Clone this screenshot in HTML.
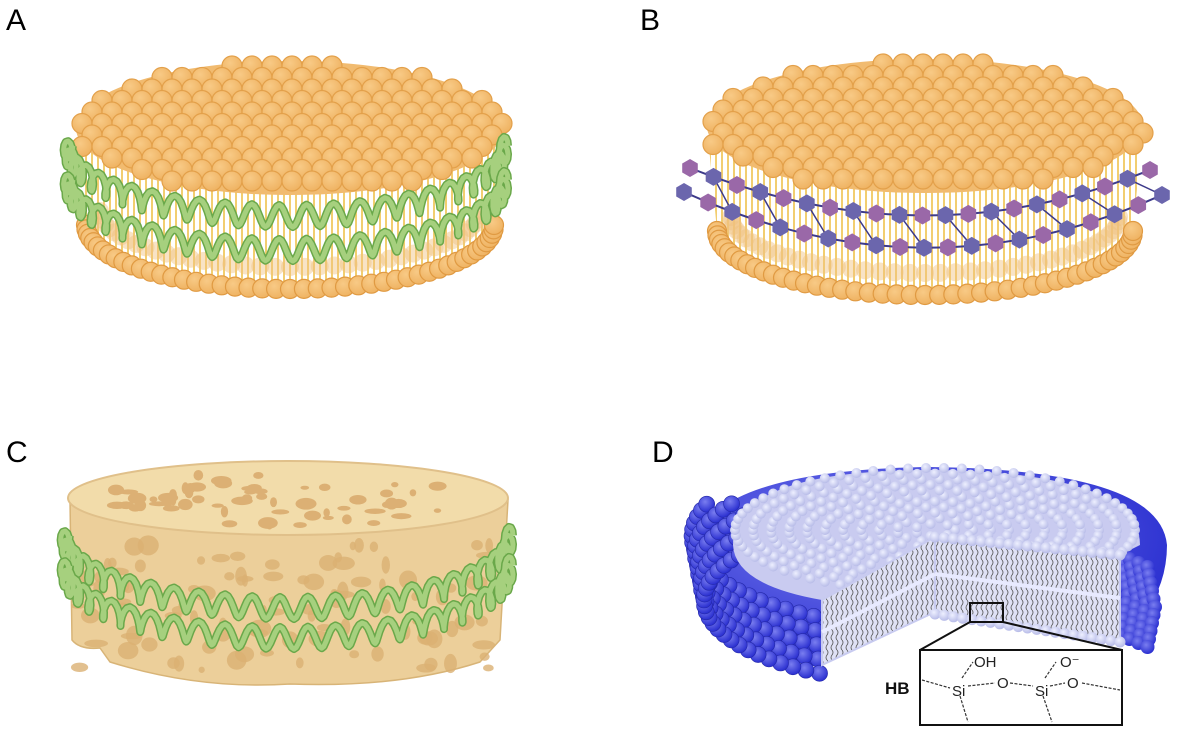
<!DOCTYPE html>
<html><head><meta charset="utf-8"><style>
html,body{margin:0;padding:0;background:#fff;}
svg{display:block;}
text{font-family:"Liberation Sans",Arial,sans-serif;}
</style></head><body>
<svg id="s" width="1178" height="732" viewBox="0 0 1178 732" xmlns="http://www.w3.org/2000/svg">
<defs>
<radialGradient id="og" cx="40%" cy="35%" r="65%"><stop offset="0" stop-color="#f8ca86"/><stop offset="1" stop-color="#efb363"/></radialGradient>
<radialGradient id="bg" cx="40%" cy="35%" r="65%"><stop offset="0" stop-color="#7a7ef0"/><stop offset="1" stop-color="#2a2fd0"/></radialGradient>
<radialGradient id="lg" cx="40%" cy="35%" r="65%"><stop offset="0" stop-color="#eef0ff"/><stop offset="1" stop-color="#b8bce8"/></radialGradient>
<pattern id="tails" width="6" height="20" patternUnits="userSpaceOnUse"><rect width="6" height="20" fill="#fff"/><rect x="1" width="2" height="20" fill="#f0c860"/></pattern>
<pattern id="tailsD" width="5" height="10" patternUnits="userSpaceOnUse"><rect width="5" height="10" fill="#dfe1f5"/><path d="M2 0 q2 2.5 0 5 q-2 2.5 0 5" stroke="#555" stroke-width="0.8" fill="none"/></pattern>
</defs>
<text x="6" y="30" font-size="30">A</text>
<text x="640" y="30" font-size="30">B</text>
<text x="6" y="462" font-size="30">C</text>
<text x="652" y="462" font-size="30">D</text>
<g id="A"></g><g id="B"></g><g id="C"></g><g id="D"></g>
</svg>
<script>
var NS="http://www.w3.org/2000/svg";
function el(p,t,a){var e=document.createElementNS(NS,t);for(var k in a)e.setAttribute(k,a[k]);p.appendChild(e);return e;}
function lipidDisc(g,cx,topY,rx,ry,frontTop,bottomFront){
  var cyT=topY+ry, cyB=bottomFront-ry+8;
  var rxb=rx-14;
  el(g,'path',{d:'M'+(cx-rx+4)+' '+cyT+' L'+(cx-rxb)+' '+cyB+' A'+rxb+' '+(ry-6)+' 0 0 0 '+(cx+rxb)+' '+cyB+' L'+(cx+rx-4)+' '+cyT+'Z',fill:'url(#tails)',opacity:0.9});
  for(var i=0;i<=40;i++){var a=Math.PI*i/40;var x=cx-(rxb-14)*Math.cos(a),y=cyB-14+(ry-14)*Math.sin(a);
    el(g,'circle',{cx:x,cy:y,r:9,fill:'#efc27e',opacity:0.45});}
  for(var i=0;i<=46;i++){var a=Math.PI*i/46;var x=cx-rxb*Math.cos(a),y=cyB+(ry-6)*Math.sin(a);
    el(g,'circle',{cx:x,cy:y,r:9.5,fill:'url(#og)',stroke:'#e09a42','stroke-width':1.2});}
  el(g,'ellipse',{cx:cx,cy:cyT,rx:rx-4,ry:ry-3,fill:'#f1bb70'});
  var dy=11.5,dx=20;
  for(var row=0;;row++){var y=topY+8+row*dy;if(y>cyT+ry-4)break;
    var off=(row%2)*dx/2;
    for(var x=cx-rx-dx+off;x<=cx+rx+dx;x+=dx){var u=(x-cx)/(rx-9),v=(y-cyT)/(ry-8);if(u*u+v*v>1.08)continue;
      el(g,'circle',{cx:x,cy:y,r:10,fill:'url(#og)',stroke:'#e3a04a','stroke-width':1.2});}}
}
function helix(g,cx,cy,rx,ry,amp,n){
  var pts=[];
  for(var i=0;i<=n*12;i++){var t=i/(n*12);var a=Math.PI*(-0.02+1.04*t);
    var x=cx-rx*Math.cos(a),y=cy+ry*Math.sin(a);var ph=2*Math.PI*n*t;
    pts.push([x+amp*0.4*Math.cos(ph)*Math.abs(Math.cos(a)),y+amp*Math.sin(ph)]);}
  var d='M'+pts.map(function(p){return p[0].toFixed(1)+' '+p[1].toFixed(1)}).join(' L');
  el(g,'path',{d:d,fill:'none',stroke:'#6aa84a','stroke-width':8,'stroke-linejoin':'round'});
  el(g,'path',{d:d,fill:'none',stroke:'#a6d07e','stroke-width':5,'stroke-linejoin':'round'});
}
var A=document.getElementById('A');
lipidDisc(A,290,58,218,70,195,287);
helix(A,286,150,218,66,11,26);
helix(A,286,184,218,66,11,26);
var B=document.getElementById('B');
lipidDisc(B,925,56,222,70,190,293);
function chain(g,x0,y0,cx,cy,x1,y1,n){
  var pts=[];for(var i=0;i<=n;i++){var t=i/n;var x=(1-t)*(1-t)*x0+2*t*(1-t)*cx+t*t*x1;var y=(1-t)*(1-t)*y0+2*t*(1-t)*cy+t*t*y1;pts.push([x,y]);}
  el(g,'path',{d:'M'+pts.map(function(p){return p[0]+' '+p[1]}).join(' L'),stroke:'#3d3a8a','stroke-width':2,fill:'none'});
  return pts;}
var c1=chain(B,690,168,925,262,1150,170,20),c2=chain(B,684,192,925,302,1162,195,20);
for(var i=1;i<20;i+=2){el(B,'line',{x1:c1[i][0],y1:c1[i][1],x2:c2[i+1][0],y2:c2[i+1][1],stroke:'#3d3a8a','stroke-width':1.5});}
[c1,c2].forEach(function(c,k){c.forEach(function(p,i){var col=((i+k)%2)?'#6b66ad':'#9a68a8';
  var h='';for(var j=0;j<6;j++){var a=Math.PI/3*j+Math.PI/6;h+=(j?'L':'M')+(p[0]+9*Math.cos(a))+' '+(p[1]+9*Math.sin(a));}
  el(B,'path',{d:h+'Z',fill:col});});});
var C=document.getElementById('C');
el(C,'path',{d:'M70 500 L72 640 Q80 650 100 648 L110 662 Q200 690 290 684 Q400 688 480 662 L500 640 L508 500Z',fill:'#eccf9a',stroke:'#d8b477','stroke-width':1.5});
el(C,'ellipse',{cx:288,cy:498,rx:220,ry:37,fill:'#f2dcaa',stroke:'#e0c08a','stroke-width':2});
var seed=7;function rnd(){seed=(seed*9301+49297)%233280;return seed/233280;}
for(var i=0;i<60;i++){var a=rnd()*2*Math.PI,r=Math.sqrt(rnd())*0.9;el(C,'ellipse',{cx:288+200*r*Math.cos(a),cy:498+32*r*Math.sin(a),rx:3+rnd()*8,ry:2+rnd()*4,fill:'#dcb074'});}
for(var i=0;i<100;i++){var x=78+rnd()*420,y=545+rnd()*125;el(C,'ellipse',{cx:x,cy:y,rx:3+rnd()*9,ry:3+rnd()*7,fill:'#dbb073',opacity:0.8});}
helix(C,287,540,222,68,11,26);
helix(C,287,570,222,68,11,26);
var D=document.getElementById('D');
el(D,'path',{d:'M692 560 Q692 470 930 467 Q1160 470 1167 545 Q1167 600 1120 640 L1120 560 L935 540 L822 600 L822 668 Q700 640 692 560Z',fill:'url(#bg)'});
for(var k=0;k<5;k++){for(var i=0;i<=40;i++){var a=Math.PI*(0.55+0.9*i/40);var x=930+(238-k*3)*Math.cos(a),y=560+(92-k*2)*Math.sin(a)+k*16-24;
  if(x<822&&y>500)el(D,'circle',{cx:x,cy:y,r:8,fill:'url(#bg)',stroke:'#2428a8','stroke-width':0.6});}}
for(var k=0;k<4;k++){for(var i=0;i<=10;i++){var y=555+i*8+k*4,x=1128+k*9-Math.abs(i-5)*1.5;el(D,'circle',{cx:x,cy:y,r:7,fill:'url(#bg)'});}}
el(D,'path',{d:'M733 545 Q733 470 930 470 Q1140 472 1140 545 L1120 555 L935 537 L822 600 Q735 585 733 545Z',fill:'#c9cbf0'});
for(var r=0.1;r<=1.0;r+=0.09){var n=Math.round(70*r);for(var i=0;i<n;i++){var a=2*Math.PI*i/n;var x=935+200*r*Math.cos(a),y=530+62*r*Math.sin(a);
  if(!(y>537-(x-935)*0.55&&x<935)&&!(x>935&&y>537+(x-935)*0.1))el(D,'circle',{cx:x,cy:y,r:5,fill:'url(#lg)'});}}
el(D,'path',{d:'M822 600 L935 537 L935 612 L822 665Z',fill:'url(#tailsD)',stroke:'#c8cbf0','stroke-width':2});
el(D,'path',{d:'M935 537 L1120 555 L1120 642 L935 612Z',fill:'url(#tailsD)',stroke:'#c8cbf0','stroke-width':2});
el(D,'line',{x1:822,y1:632,x2:935,y2:574,stroke:'#e8eaff','stroke-width':4});
el(D,'line',{x1:935,y1:574,x2:1120,y2:598,stroke:'#e8eaff','stroke-width':4});
for(var i=0;i<=20;i++){var x=935+185*i/20;el(D,'circle',{cx:x,cy:537+18*i/20,r:5.5,fill:'url(#lg)'});el(D,'circle',{cx:x,cy:614+28*i/20,r:5.5,fill:'url(#lg)'});}
el(D,'rect',{x:970,y:603,width:33,height:19,fill:'none',stroke:'#111','stroke-width':2});
el(D,'line',{x1:970,y1:622,x2:920,y2:650,stroke:'#111','stroke-width':2});
el(D,'line',{x1:1003,y1:622,x2:1122,y2:650,stroke:'#111','stroke-width':2});
el(D,'rect',{x:920,y:650,width:202,height:75,fill:'#fff',stroke:'#111','stroke-width':2});
var ds={stroke:'#333','stroke-width':1.2,'stroke-dasharray':'3 1.5',fill:'none'};
[[922,680,950,688],[968,686,995,683],[1010,683,1033,686],[1050,686,1065,683],[1082,683,1120,690],[960,696,968,722],[1043,696,1052,722],[962,678,973,662],[1045,678,1056,662]].forEach(function(l){el(D,'line',Object.assign({x1:l[0],y1:l[1],x2:l[2],y2:l[3]},ds));});
var T=[['OH',974,667],['O⁻',1060,667],['Si',952,696],['O',997,688],['Si',1035,696],['O',1067,688]];
T.forEach(function(t){var e=el(D,'text',{x:t[1],y:t[2],'font-size':15,fill:'#222'});e.textContent=t[0];});
var hb=el(D,'text',{x:885,y:694,'font-size':17,'font-weight':'bold',fill:'#111'});hb.textContent='HB';
</script>
</body></html>
